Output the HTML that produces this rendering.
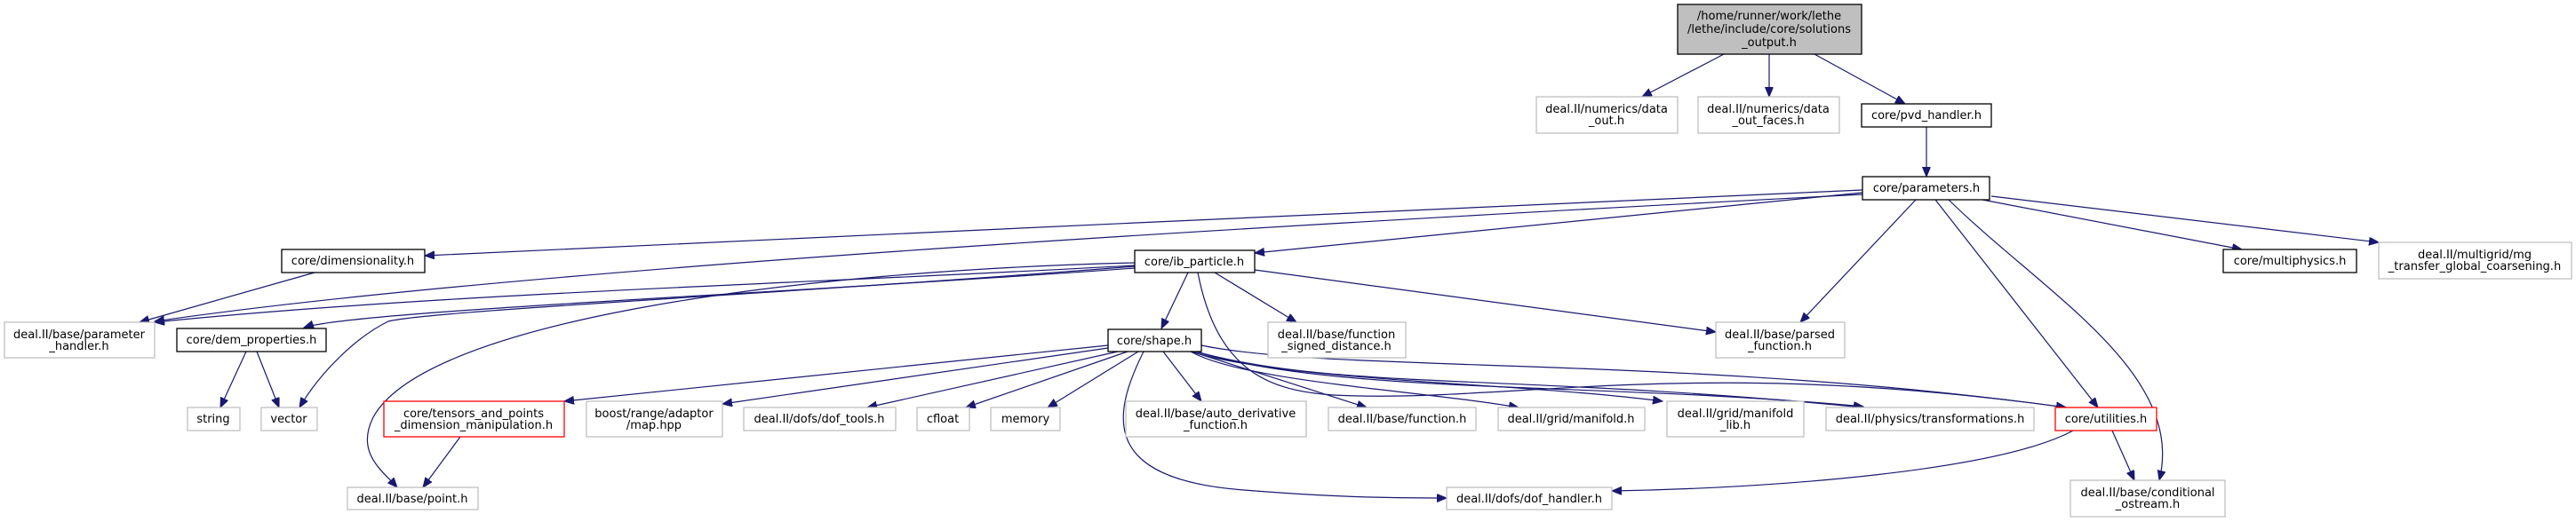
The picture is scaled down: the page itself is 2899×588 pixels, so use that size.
<!DOCTYPE html>
<html><head><meta charset="utf-8"><style>
html,body{margin:0;padding:0;background:#fff;}
svg{display:block;}
text{font-family:"DejaVu Sans","Liberation Sans",sans-serif;font-size:13px;fill:#000;text-anchor:middle;}
.g{fill:#fff;stroke:#bfbfbf;stroke-width:1.3;}
.b{fill:#fff;stroke:#000;stroke-width:1.3;}
.r{fill:#fff;stroke:#ff0000;stroke-width:1.3;}
.e{fill:none;stroke:#191970;stroke-width:1.2;}
</style></head><body>
<svg width="2899" height="588" viewBox="0 0 2899 588" xmlns="http://www.w3.org/2000/svg">
<defs>
<marker id="a" markerUnits="userSpaceOnUse" markerWidth="12" markerHeight="10" refX="11" refY="4.5" orient="auto">
<path d="M0,0 L11,4.5 L0,9 Z" fill="#191970" stroke="#191970"/>
</marker>
</defs>

<g class="e" marker-end="url(#a)">
<path d="M1940,61 L1848,109"/>
<path d="M1991,61 L1991,109"/>
<path d="M2042,61 L2144,117"/>
<path d="M2168,143 L2168,199"/>
<path d="M2231,225 L2523,281"/>
<path d="M2241,221 L2677,273"/>
<path d="M2156,225 L2026,363"/>
<path d="M2178,225 L2361,459"/>
<path d="M2193,225 C2300,330 2460,420 2430,541"/>
<path d="M2096,214 C1700,235 900,265 478,288"/>
<path d="M2096,217 L1412,285"/>
<path d="M2096,219 C1500,250 600,300 174,362"/>
<path d="M1412,304 L1931,374"/>
<path d="M1367,307 L1459,363"/>
<path d="M1337,307 L1307,370"/>
<path d="M1348,307 C1370,420 1430,440 1500,445 C1700,455 1900,400 2325,459"/>
<path d="M1277,302 C900,330 400,350 342,369"/>
<path d="M1277,300 C900,330 480,350 437,362 C400,380 360,420 337,459"/>
<path d="M1277,296 C900,305 480,360 420,470 C400,510 430,530 447,549"/>
<path d="M1277,299 C900,320 500,330 174,363"/>
<path d="M354,307 L157,363"/>
<path d="M277,396 L248,459"/>
<path d="M289,396 L314,459"/>
<path d="M518,492 L476,549"/>
<path d="M1247,389 L635,452"/>
<path d="M1247,392 L813,455"/>
<path d="M1258,396 L976,459"/>
<path d="M1269,396 L1087,459"/>
<path d="M1281,396 L1179,459"/>
<path d="M1309,396 L1352,452"/>
<path d="M1287,396 C1250,470 1240,540 1400,552 C1500,560 1560,561 1628,561"/>
<path d="M1341,396 L1538,459"/>
<path d="M1340,396 C1400,430 1600,440 1709,459"/>
<path d="M1340,396 C1450,430 1700,430 1871,452"/>
<path d="M1342,395 C1500,440 1700,420 2097,459"/>
<path d="M1343,395 C1500,445 1800,430 2097,458"/>
<path d="M1352,389 C1500,420 1900,400 2325,459"/>
<path d="M2333,485 C2250,530 2000,550 1814,553"/>
<path d="M2377,485 L2402,541"/>
</g>

<rect x="1888" y="5" width="207" height="56" fill="#bfbfbf" stroke="#000" stroke-width="1.3"/>
<text x="1991" y="22">/home/runner/work/lethe</text>
<text x="1991" y="37">/lethe/include/core/solutions</text>
<text x="1991" y="52">_output.h</text>

<rect class="g" x="1729" y="109" width="159" height="41"/><text x="1808" y="127">deal.II/numerics/data</text><text x="1808" y="140">_out.h</text>
<rect class="g" x="1911" y="109" width="159" height="41"/><text x="1990" y="127">deal.II/numerics/data</text><text x="1990" y="140">_out_faces.h</text>
<rect class="b" x="2095" y="117" width="146" height="26"/><text x="2168" y="134">core/pvd_handler.h</text>
<rect class="b" x="2096" y="199" width="143" height="26"/><text x="2168" y="216">core/parameters.h</text>

<rect class="b" x="317" y="281" width="161" height="26"/><text x="397" y="298">core/dimensionality.h</text>
<rect class="b" x="1277" y="282" width="135" height="25"/><text x="1344" y="299">core/ib_particle.h</text>
<rect class="b" x="2502" y="281" width="150" height="26"/><text x="2577" y="298">core/multiphysics.h</text>
<rect class="g" x="2677" y="273" width="217" height="41"/><text x="2785" y="291">deal.II/multigrid/mg</text><text x="2785" y="304">_transfer_global_coarsening.h</text>

<rect class="g" x="5" y="363" width="169" height="40"/><text x="89" y="381">deal.II/base/parameter</text><text x="89" y="394">_handler.h</text>
<rect class="b" x="199" y="370" width="168" height="26"/><text x="283" y="387">core/dem_properties.h</text>
<rect class="b" x="1247" y="371" width="105" height="25"/><text x="1299" y="388">core/shape.h</text>
<rect class="g" x="1427" y="363" width="155" height="40"/><text x="1504" y="381">deal.II/base/function</text><text x="1504" y="394">_signed_distance.h</text>
<rect class="g" x="1931" y="363" width="145" height="40"/><text x="2003" y="381">deal.II/base/parsed</text><text x="2003" y="394">_function.h</text>

<rect class="g" x="211" y="459" width="59" height="26"/><text x="240" y="476">string</text>
<rect class="g" x="294" y="459" width="63" height="26"/><text x="325" y="476">vector</text>
<rect class="r" x="432" y="452" width="203" height="40"/><text x="533" y="470">core/tensors_and_points</text><text x="533" y="483">_dimension_manipulation.h</text>
<rect class="g" x="660" y="452" width="153" height="40"/><text x="736" y="470">boost/range/adaptor</text><text x="736" y="483">/map.hpp</text>
<rect class="g" x="837" y="459" width="171" height="26"/><text x="922" y="476">deal.II/dofs/dof_tools.h</text>
<rect class="g" x="1032" y="459" width="59" height="26"/><text x="1061" y="476">cfloat</text>
<rect class="g" x="1115" y="459" width="78" height="26"/><text x="1154" y="476">memory</text>
<rect class="g" x="1267" y="452" width="203" height="40"/><text x="1368" y="470">deal.II/base/auto_derivative</text><text x="1368" y="483">_function.h</text>
<rect class="g" x="1495" y="459" width="166" height="26"/><text x="1578" y="476">deal.II/base/function.h</text>
<rect class="g" x="1686" y="459" width="165" height="26"/><text x="1768" y="476">deal.II/grid/manifold.h</text>
<rect class="g" x="1876" y="452" width="154" height="40"/><text x="1953" y="470">deal.II/grid/manifold</text><text x="1953" y="483">_lib.h</text>
<rect class="g" x="2055" y="459" width="234" height="26"/><text x="2172" y="476">deal.II/physics/transformations.h</text>
<rect class="r" x="2313" y="459" width="114" height="26"/><text x="2370" y="476">core/utilities.h</text>

<rect class="g" x="391" y="549" width="147" height="25"/><text x="464" y="566">deal.II/base/point.h</text>
<rect class="g" x="1628" y="549" width="186" height="25"/><text x="1721" y="566">deal.II/dofs/dof_handler.h</text>
<rect class="g" x="2330" y="541" width="174" height="41"/><text x="2417" y="559">deal.II/base/conditional</text><text x="2417" y="572">_ostream.h</text>
</svg>
</body></html>
